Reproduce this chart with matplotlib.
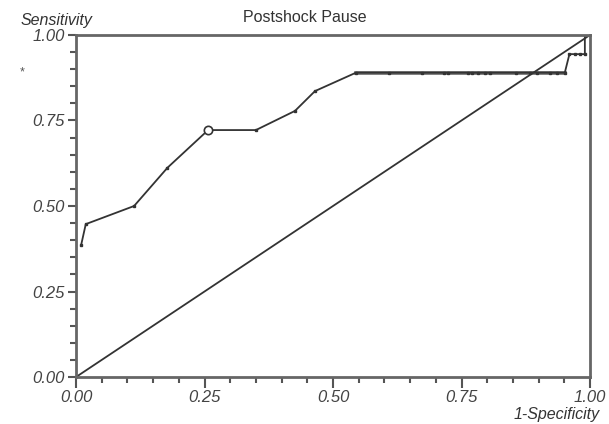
import matplotlib.pyplot as plt
from matplotlib.ticker import MultipleLocator, FixedFormatter, FixedLocator

plt.rcParams['font.family'] = ['Liberation Sans', 'DejaVu Sans']

# ROC points
fpr = [0.010, 0.019, 0.113, 0.178, 0.257, 0.350, 0.426, 0.465, 0.545,
       0.609, 0.674, 0.715, 0.724, 0.763, 0.770, 0.783, 0.796, 0.805,
       0.856, 0.883, 0.896, 0.922, 0.935, 0.951, 0.960, 0.970, 0.980,
       0.990, 0.990, 1.000]
tpr = [0.386, 0.447, 0.500, 0.612, 0.722, 0.722, 0.778, 0.836, 0.890,
       0.890, 0.890, 0.890, 0.890, 0.890, 0.890, 0.890, 0.890, 0.890,
       0.890, 0.890, 0.890, 0.890, 0.890, 0.890, 0.944, 0.944, 0.944,
       0.944, 1.000, 1.000]
cut_x, cut_y = 0.257, 0.722
ref = [0.0, 1.0]
ticks = [0.0, 0.25, 0.5, 0.75, 1.0]
tick_labels = ['0.00', '0.25', '0.50', '0.75', '1.00']

fig = plt.figure(figsize=(6.09, 4.24), dpi=100)
ax = fig.add_axes([0.1248, 0.1108, 0.844, 0.8067])

ax.plot(ref, ref, color='#333333', lw=1.3)
ax.plot(fpr, tpr, color='#333333', lw=1.3, marker='s', ms=1.6)
ax.plot(fpr[8:24], tpr[8:24], color='#666666', lw=2.6, zorder=1.9)
ax.plot([cut_x], [cut_y], 'o', mfc='white', mec='#333333', ms=6, mew=1.2)

ax.set_xlim(0, 1)
ax.set_ylim(0, 1)
ax.xaxis.set_major_locator(FixedLocator(ticks))
ax.yaxis.set_major_locator(FixedLocator(ticks))
ax.xaxis.set_major_formatter(FixedFormatter(tick_labels))
ax.yaxis.set_major_formatter(FixedFormatter(tick_labels))
ax.xaxis.set_minor_locator(MultipleLocator(0.05))
ax.yaxis.set_minor_locator(MultipleLocator(0.05))
ax.tick_params(which='major', direction='out', length=6, width=1.5,
               color='#555555', labelsize=12, labelcolor='#444444', pad=2)
ax.tick_params(axis='x', which='major', length=8, pad=1)
ax.tick_params(which='minor', direction='out', length=4, width=1.5,
               color='#555555')
for lab in ax.get_xticklabels() + ax.get_yticklabels():
    lab.set_fontstyle('italic')

for s in ax.spines.values():
    s.set_color('#666666')
    s.set_linewidth(2)

fig.text(0.5, 0.958, 'Postshock Pause', ha='center', va='center',
         fontsize=11.5, color='#333333')
fig.text(0.033, 0.952, 'Sensitivity', ha='left', va='center',
         fontsize=11.5, style='italic', color='#333333')
fig.text(0.985, 0.022, '1-Specificity', ha='right', va='center',
         fontsize=11.5, style='italic', color='#333333')
fig.text(0.037, 0.828, '*', ha='center', va='center', fontsize=9,
         color='#555555')

fig.savefig('out.png', dpi=100)
